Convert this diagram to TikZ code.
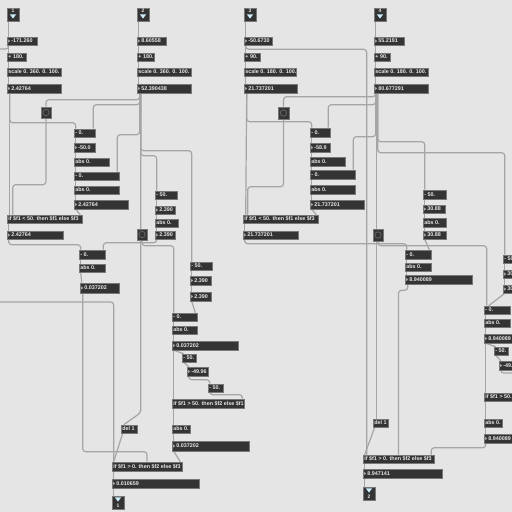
\documentclass[tikz,border=0pt]{standalone}
\usepackage{fontspec}
\setmainfont{Liberation Sans}
\usetikzlibrary{calc,fit}
\definecolor{bgc}{RGB}{229,229,229}
\definecolor{boxc}{RGB}{52,52,52}
\definecolor{boxl}{RGB}{120,120,120}
\definecolor{txtc}{RGB}{232,232,232}
\definecolor{wirec}{RGB}{165,165,165}
\definecolor{ringc}{RGB}{100,100,100}
\pgfdeclarelayer{back}
\pgfdeclarelayer{wires}
\pgfsetlayers{back,wires,main}
\tikzset{
 objbox/.style={draw=boxl, fill=boxc, line width=0.6pt, inner sep=0pt, rectangle},
 objtxt/.style={text=txtc, font=\fontsize{5.4}{5.6}\selectfont\bfseries, inner sep=0pt, anchor=west},
 porttxt/.style={text=txtc, font=\fontsize{5}{5}\selectfont\bfseries, inner sep=0pt},
 wire/.style={draw=wirec, line width=1.2pt, rounded corners=3pt},
 numtri/.style={fill=txtc!60!boxc},
 porttri/.style={fill=white!80!cyan},
}
\newcommand\mobj[6]{\node[objbox, fit={(#2,#3) (#4,#5)}] (#1) {};
 \node[objtxt] (#1t) at ([xshift=1.5pt]#1.west) {#6};}
\newcommand\mnum[6]{\node[objbox, fit={(#2,#3) (#4,#5)}] (#1) {};
 \fill[numtri] ([xshift=1.5pt,yshift=1.7pt]#1.west) -- ([xshift=3.5pt]#1.west) -- ([xshift=1.5pt,yshift=-1.7pt]#1.west) -- cycle;
 \node[objtxt] (#1t) at ([xshift=4.4pt]#1.west) {#6};}
\newcommand\minl[6]{\node[objbox, fit={(#2,#3) (#4,#5)}] (#1) {};
 \node[porttxt] (#1t) at ([yshift=-3.3pt]#1.north) {#6};
 \fill[porttri] ([xshift=-3.2pt,yshift=-6.6pt]#1.north) -- ([xshift=3.2pt,yshift=-6.6pt]#1.north) -- ([yshift=-10.8pt]#1.north) -- cycle;}
\newcommand\moutl[6]{\node[objbox, fit={(#2,#3) (#4,#5)}] (#1) {};
 \fill[porttri] ([xshift=-3.2pt,yshift=-1.6pt]#1.north) -- ([xshift=3.2pt,yshift=-1.6pt]#1.north) -- ([yshift=-5.8pt]#1.north) -- cycle;
 \node[porttxt] (#1t) at ([yshift=3.3pt]#1.south) {#6};}
\newcommand\mtog[5]{\node[objbox, fit={(#2,#3) (#4,#5)}] (#1) {};
 \draw[ringc, line width=0.8pt] (#1.center) circle (3.2pt);}

\begin{document}
\begin{tikzpicture}[x=1pt,y=-1pt]
\useasboundingbox (0,0) rectangle (512,512);
\begin{pgfonlayer}{back}
\fill[bgc] (0,0) rectangle (512,512);
\end{pgfonlayer}

% ---------- left section ----------
\minl{in1}{7}{8}{19}{21}{1}
\mnum{n1a}{7}{37}{37}{45}{-171.260}
\mobj{p1}{7}{53}{26}{61}{+ 180.}
\mobj{s1}{7}{68}{61}{76}{scale 0. 360. 0. 100.}
\mnum{n1b}{7}{84}{61}{93}{2.42764}
\minl{in2}{137}{8}{149}{21}{2}
\mnum{n2a}{137}{37}{166}{45}{8.60558}
\mobj{p2}{137}{53}{154}{61}{+ 180.}
\mobj{s2}{137}{68}{191}{76}{scale 0. 360. 0. 100.}
\mnum{n2b}{137}{84}{191}{93}{52.390438}
\mtog{tg1}{41}{107}{51}{118}
\mobj{m1}{74}{129}{95}{137}{- 0.}
\mnum{n3}{74}{143}{95}{152}{-50.0}
\mobj{a1}{74}{158}{109}{166}{abs 0.}
\mobj{m2}{74}{172}{119}{180}{- 0.}
\mobj{a2}{74}{186}{119}{194}{abs 0.}
\mnum{n4}{74}{200}{128}{209}{2.42764}
\mobj{if1}{7}{215}{82}{223}{if \$f1 < 50. then \$f1 else \$f3}
\mnum{n5}{7}{231}{63}{239}{2.42764}
\mtog{tg2}{137}{229}{147}{240}
\mobj{m3}{155}{191}{177}{199}{- 50.}
\mnum{n6}{155}{206}{175}{214}{2.390}
\mobj{a3}{155}{219}{178}{227}{abs 0.}
\mnum{n7}{155}{231}{175}{239}{2.390}
\mobj{m4}{79}{250}{105}{259}{- 0.}
\mobj{a4}{79}{264}{105}{272}{abs 0.}
\mnum{n8}{80}{283}{119}{293}{0.037202}
\mobj{m5}{190}{262}{212}{270}{- 50.}
\mnum{n9}{190}{276}{211}{285}{2.390}
\mnum{n10}{190}{292}{211}{301}{2.390}
\mobj{m6}{172}{313}{197}{321}{- 0.}
\mobj{a5}{172}{326}{197}{334}{abs 0.}
\mnum{n11}{172}{341}{238}{350}{0.037202}
\mobj{m7}{182}{354}{196}{362}{- 50.}
\mnum{n12}{187}{367}{208}{376}{-49.96}
\mobj{m8}{208}{384}{223}{392}{- 50.}
\mobj{if2}{172}{399}{244}{408}{if \$f1 > 50. then \$f2 else \$f1}
\mobj{a6}{172}{425}{190}{433}{abs 0.}
\mnum{n13}{172}{441}{249}{451}{0.037202}
\mobj{d1}{121}{425}{137}{433}{del 1}
\mobj{if3}{112}{462}{182}{471}{if \$f1 > 0. then \$f2 else \$f3}
\mnum{n14}{112}{479}{199}{488}{0.010659}
\moutl{out1}{112}{496}{124}{509}{1}

% ---------- right section ----------
\minl{in3}{244}{8}{256}{21}{3}
\mnum{n21a}{244}{37}{272}{45}{-50.6730}
\mobj{p3}{244}{53}{260}{61}{+ 90.}
\mobj{s3}{244}{68}{296}{76}{scale 0. 180. 0. 100.}
\mnum{n21b}{244}{84}{297}{93}{21.737201}
\minl{in4}{374}{8}{386}{21}{4}
\mnum{n22a}{374}{37}{404}{45}{55.2191}
\mobj{p4}{374}{53}{390}{61}{+ 90.}
\mobj{s4}{374}{68}{428}{76}{scale 0. 180. 0. 100.}
\mnum{n22b}{374}{84}{428}{93}{80.677291}
\mtog{tg3}{278}{107}{289}{119}
\mobj{m21}{310}{128}{330}{137}{- 0.}
\mnum{n23}{310}{143}{330}{152}{-58.9}
\mobj{a21}{310}{157}{345}{166}{abs 0.}
\mobj{m22}{310}{170}{355}{179}{- 0.}
\mobj{a22}{310}{185}{355}{194}{abs 0.}
\mnum{n24}{310}{200}{364}{209}{21.737201}
\mobj{if21}{243}{215}{318}{223}{if \$f1 < 50. then \$f1 else \$f3}
\mnum{n25}{243}{231}{298}{239}{21.737201}
\mtog{tg4}{373}{229}{383}{241}
\mobj{m23}{423}{190}{446}{199}{- 50.}
\mnum{n26}{423}{205}{445}{213}{30.88}
\mobj{a23}{423}{218}{446}{227}{abs 0.}
\mnum{n27}{423}{231}{446}{239}{30.88}
\mobj{m24}{405}{250}{431}{259}{- 0.}
\mobj{a24}{405}{263}{431}{271}{abs 0.}
\mnum{n28}{405}{275}{472}{284}{8.940089}
\mobj{m25}{503}{255}{525}{263}{- 50.}
\mnum{n29}{503}{270}{525}{278}{30.88}
\mnum{n30}{503}{285}{525}{293}{30.88}
\mobj{m26}{484}{306}{510}{314}{- 0.}
\mobj{a25}{484}{319}{510}{327}{abs 0.}
\mnum{n31}{484}{334}{550}{343}{8.940089}
\mobj{m27}{494}{347}{508}{355}{- 50.}
\mnum{n32}{499}{361}{520}{370}{-49.96}
\mobj{if22}{484}{393}{556}{401}{if \$f1 > 50. then \$f2 else \$f1}
\mobj{a26}{484}{419}{502}{427}{abs 0.}
\mnum{n33}{484}{434}{561}{443}{8.940089}
\mobj{d2}{373}{419}{388}{427}{del 1}
\mobj{if23}{363}{455}{434}{463}{if \$f1 > 0. then \$f2 else \$f3}
\mnum{n34}{363}{469}{442}{478}{8.947141}
\moutl{out2}{363}{487}{375}{500}{2}

\coordinate (lft1) at (-5,49);
\coordinate (lft2) at (-5,302);
\coordinate (rgt1) at (520,373);

\begin{pgfonlayer}{wires}
\foreach \a/\b in {in1/n1a,n1a/p1,p1/s1,s1/n1b,in2/n2a,n2a/p2,p2/s2,s2/n2b,
  m1/n3,n3/a1,a1/m2,m2/a2,a2/n4,if1/n5,m3/n6,n6/a3,a3/n7,m4/a4,a4/n8,
  m5/n9,n9/n10,m6/a5,a5/n11,n11/if2,if2/a6,a6/n13,if3/n14,n14/out1,
  in3/n21a,n21a/p3,p3/s3,s3/n21b,in4/n22a,n22a/p4,p4/s4,s4/n22b,
  m21/n23,n23/a21,a21/m22,m22/a22,a22/n24,if21/n25,m23/n26,n26/a23,a23/n27,
  m24/a24,a24/n28,m25/n29,n29/n30,m26/a25,a25/n31,n31/if22,if22/a26,a26/n33,
  if23/n34,n34/out2,n11/m7,m7/n12,n31/m27,m27/n32,d1/if3,d2/if23}
  {\draw[wire] ([xshift=2pt]\a.south west) -- ([xshift=2pt]\b.north west);}

% left section routing
\draw[wire] ([xshift=2pt]n1a.south west) |- (lft1);
\draw[wire] ([xshift=3pt]n1b.south west) -- ([xshift=3pt]if1.north west);
\draw[wire] ([xshift=3pt]n1b.south west) |- ([xshift=2pt,yshift=6pt]m1.north west) -- ([xshift=2pt]m1.north west);
\draw[wire] ([xshift=3pt]n2b.south west) |- ([yshift=7pt]tg1.north) -- (tg1.north);
\draw[wire] ([xshift=3pt]n2b.south west) |- ([xshift=-2pt,yshift=24pt]m1.north east) -- ([xshift=-2pt]m1.north east);
\draw[wire] ([xshift=3pt]n2b.south west) |- ([xshift=-2pt,yshift=37pt]m2.north east) -- ([xshift=-2pt]m2.north east);
\draw[wire] ([xshift=4pt]n2b.south west) |- ([xshift=2pt,yshift=111pt]m5.north west) -- ([xshift=2pt]m5.north west);
\draw[wire] ([xshift=4pt]n2b.south west) |- ([xshift=2pt,yshift=35pt]m3.north west) -- ([xshift=2pt]m3.north west);
\draw[wire] ([xshift=4pt]n2b.south west) |- ($(d1.north west)+(20,-12)$) -- ([xshift=3pt]d1.north west);
\draw[wire] (tg1.south) |- ([xshift=6pt,yshift=30pt]if1.north west) -- ([xshift=6pt]if1.north west);
\draw[wire] ([xshift=2pt]n4.south west) -- ([xshift=-2pt]if1.north east);
\draw[wire] ([xshift=2pt]n5.south west) |- ([xshift=2pt,yshift=5pt]m4.north west) -- ([xshift=2pt]m4.north west);
\draw[wire] ([xshift=2pt]n7.south west) |- ([xshift=-2pt,yshift=7pt]m4.north east) -- ([xshift=-2pt]m4.north east);
\draw[wire] (tg2.south) |- ([xshift=2pt,yshift=67pt]m6.north west) -- ([xshift=2pt]m6.north west);
\draw[wire] ([xshift=3pt]n8.south west) |- ([yshift=10pt]if3.north) -- (if3.north);
\draw[wire] (lft2) -| ([xshift=2pt]if3.north west);
\draw[wire] ([xshift=2pt]n10.south west) -- ([xshift=-2pt]m6.north east);
\draw[wire] ([xshift=2pt]n12.south west) |- ([xshift=2pt,yshift=4pt]m8.north west) -- ([xshift=2pt]m8.north west);
\draw[wire] ([xshift=2pt]m8.south west) |- ([xshift=-2pt,yshift=4pt]if2.north east) -- ([xshift=-2pt]if2.north east);
\draw[wire] ([xshift=2pt]n13.south west) -- ([xshift=-2pt]if3.north east);

% right section routing
\draw[wire] ([xshift=2pt]n21a.south west) -- ++(0,4) -| ([xshift=4pt]if23.north west);
\draw[wire] ([xshift=3pt]n21b.south west) -- ([xshift=3pt]if21.north west);
\draw[wire] ([xshift=3pt]n21b.south west) |- ([xshift=2pt,yshift=6pt]m21.north west) -- ([xshift=2pt]m21.north west);
\draw[wire] ([xshift=2pt]n22b.south west) |- ([yshift=10pt]tg3.north) -- (tg3.north);
\draw[wire] ([xshift=2pt]n22b.south west) |- ([xshift=-2pt,yshift=23pt]m21.north east) -- ([xshift=-2pt]m21.north east);
\draw[wire] ([xshift=2pt]n22b.south west) |- ([xshift=-2pt,yshift=33pt]m22.north east) -- ([xshift=-2pt]m22.north east);
\draw[wire] ([xshift=4pt]n22b.south west) |- ([xshift=2pt,yshift=48pt]m23.north west) -- ([xshift=2pt]m23.north west);
\draw[wire] ([xshift=4pt]n22b.south west) |- ([xshift=2pt,yshift=102pt]m25.north west) -- ([xshift=2pt]m25.north west);
\draw[wire] ([xshift=3pt]n22b.south west) -- ([xshift=4pt]d2.north west);
\draw[wire] (tg3.south) |- ([xshift=5pt,yshift=28pt]if21.north west) -- ([xshift=5pt]if21.north west);
\draw[wire] ([xshift=2pt]n24.south west) -- ([xshift=-2pt]if21.north east);
\draw[wire] ([xshift=2pt]n25.south west) |- ([xshift=2pt,yshift=6pt]m24.north west) -- ([xshift=2pt]m24.north west);
\draw[wire] (tg4.south) |- ([xshift=3pt,yshift=60pt]m26.north west) -- ([xshift=3pt]m26.north west);
\draw[wire] ([xshift=2pt]n27.south west) -- ([xshift=-2pt]m24.north east);
\draw[wire] ([xshift=3pt]n28.south west) -- ++(0,6) -| (if23.north);
\draw[wire] ([xshift=2pt]n30.south west) -- ([xshift=5pt]m26.north west);
\draw[wire] ([xshift=2pt]n32.south west) |- (rgt1);
\draw[wire] ([xshift=2pt]n33.south west) |- ([xshift=-3pt,yshift=7pt]if23.north east) -- ([xshift=-3pt]if23.north east);
\end{pgfonlayer}
\end{tikzpicture}
\end{document}
